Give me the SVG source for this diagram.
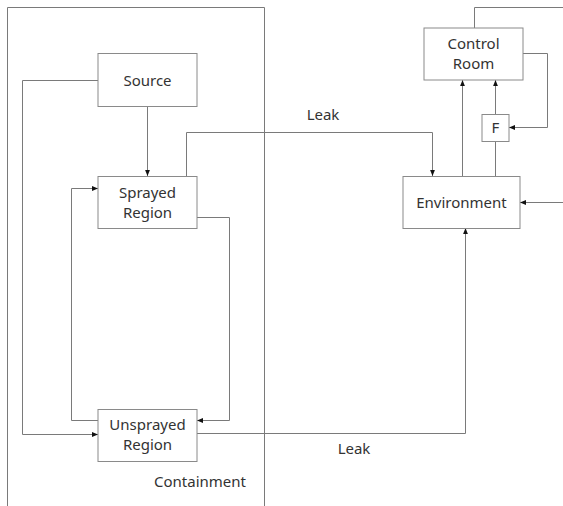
<svg xmlns="http://www.w3.org/2000/svg" width="563" height="506" viewBox="0 0 563 506">
<style>
.box{fill:#fff;stroke:#8a8a8a;stroke-width:1}
.ln{fill:none;stroke:#7a7a7a;stroke-width:1}
.t{font-family:"Noto Sans","Open Sans","DejaVu Sans",sans-serif;font-size:15px;fill:#333;text-anchor:middle}
</style>
<defs>
<marker id="ah" viewBox="0 0 10 10" refX="10" refY="5" markerWidth="6" markerHeight="6" orient="auto" markerUnits="userSpaceOnUse">
<path d="M0,1 L10,5 L0,9 Z" fill="#111"/>
</marker>
</defs>
<rect width="563" height="506" fill="#fff"/>
<g id="containment">
<path class="ln" d="M7.5,506 V7.5 H264.5 V506"/>
<text class="t" x="200" y="487">Containment</text>
</g>
<g id="connectors">
<path class="ln" d="M147.5,106 V176" marker-end="url(#ah)"/>
<path class="ln" d="M98,80.5 H22.5 V434.5 H98" marker-end="url(#ah)"/>
<path class="ln" d="M186.5,176 V132.5 H432.5 V176" marker-end="url(#ah)"/>
<path class="ln" d="M197,217.5 H229.5 V420.5 H197" marker-end="url(#ah)"/>
<path class="ln" d="M98,420.5 H71.5 V188.5 H98" marker-end="url(#ah)"/>
<path class="ln" d="M197,433.5 H465.5 V228" marker-end="url(#ah)"/>
<path class="ln" d="M462.5,176 V80" marker-end="url(#ah)"/>
<path class="ln" d="M495.5,176 V141"/>
<path class="ln" d="M495.5,114 V80" marker-end="url(#ah)"/>
<path class="ln" d="M523,53.5 H547.5 V127.5 H509" marker-end="url(#ah)"/>
<path class="ln" d="M474.5,28 V7.5 H563"/>
<path class="ln" d="M563,202.5 H520" marker-end="url(#ah)"/>
<text class="t" x="323" y="120">Leak</text>
<text class="t" x="354" y="454">Leak</text>
</g>
<g id="source">
<rect class="box" x="98" y="53.5" width="99" height="53"/>
<text class="t" x="147.5" y="86">Source</text>
</g>
<g id="sprayed">
<rect class="box" x="98" y="176.5" width="99" height="52"/>
<text class="t" x="147.5" y="198">Sprayed</text>
<text class="t" x="147.5" y="218">Region</text>
</g>
<g id="unsprayed">
<rect class="box" x="98" y="409.5" width="99" height="52"/>
<text class="t" x="147.5" y="430">Unsprayed</text>
<text class="t" x="147.5" y="450">Region</text>
</g>
<g id="environment">
<rect class="box" x="403" y="176.5" width="117" height="52"/>
<text class="t" x="461.5" y="208">Environment</text>
</g>
<g id="controlroom">
<rect class="box" x="424" y="28" width="99" height="52"/>
<text class="t" x="473.5" y="49">Control</text>
<text class="t" x="473.5" y="69">Room</text>
</g>
<g id="filter">
<rect class="box" x="482" y="114.5" width="27" height="27"/>
<text class="t" x="495.5" y="133">F</text>
</g>
</svg>
